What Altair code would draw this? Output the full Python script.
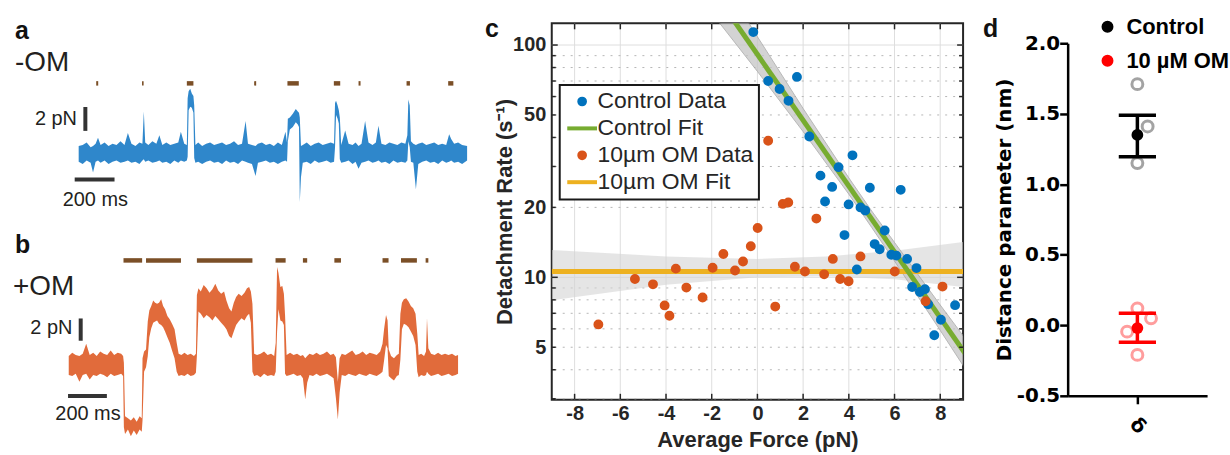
import altair as alt
import pandas as pd

# ======================= DATA =======================
# ---- panel a (-OM): force-trace envelope (time in ms, force in pN) ----
a_t = [0, 20, 40, 60, 72, 85, 97, 110, 130, 150,
       170, 190, 210, 230, 247, 265, 285, 305, 320, 327,
       334, 350, 370, 390, 405, 420, 440, 460, 480, 500,
       513, 530, 543, 547, 552, 560, 568, 576, 580, 586,
       600, 620, 640, 660, 680, 700, 720, 740, 760, 780,
       800, 820, 838, 850, 870, 888, 900, 920, 940, 960,
       980, 1000, 1020, 1038, 1046, 1050, 1060, 1075, 1090, 1100,
       1106, 1110, 1116, 1125, 1145, 1165, 1185, 1205, 1225, 1245,
       1265, 1282, 1287, 1292, 1300, 1306, 1311, 1318, 1338, 1355,
       1375, 1390, 1405, 1420, 1438, 1455, 1475, 1492, 1505, 1520,
       1540, 1560, 1580, 1600, 1620, 1640, 1650, 1655, 1662, 1668,
       1680, 1693, 1705, 1725, 1745, 1765, 1785, 1805, 1825, 1845,
       1860, 1870, 1885, 1905, 1925, 1950]
a_lo = [-0.7, -0.9, -0.6, -0.8, -1.6, -0.7, -0.6, -0.8, -0.6, -0.9,
        -0.7, -0.6, -0.8, -0.7, -0.6, -0.8, -0.7, -0.9, -0.6, -0.5,
        -0.7, -0.6, -0.8, -0.7, -0.6, -0.8, -0.7, -0.9, -0.6, -0.8,
        -0.6, -0.7, -0.6, -0.3, 3.6, 3.9, 3.8, 3.4, -0.4, -0.8,
        -0.7, -0.9, -0.7, -0.6, -0.8, -0.7, -0.9, -0.6, -0.8, -0.7,
        -0.9, -0.6, -0.7, -0.8, -0.9, -1.9, -0.8, -0.7, -0.6, -0.8,
        -0.7, -0.9, -0.7, -0.6, -0.7, 1.0, 2.0, 2.2, 2.6, 2.4,
        2.2, -4.1, -2.0, -0.8, -0.7, -0.9, -0.6, -0.8, -0.7, -0.6,
        -0.8, -0.7, 0.5, 3.2, 2.9, 2.5, -0.5, -0.8, -0.7, -0.6,
        -0.9, -0.7, -1.3, -0.8, -0.7, -0.6, -0.8, -0.7, -0.6, -0.8,
        -0.7, -0.9, -0.6, -0.8, -0.7, -0.8, -0.6, 1.0, 0.5, -0.7,
        -0.8, -3.0, -0.9, -0.7, -0.6, -0.8, -0.7, -0.9, -0.6, -0.8,
        -0.7, -0.6, -0.8, -0.7, -0.9, -0.6]
a_hi = [0.6, 0.7, 0.9, 0.5, 0.6, 0.8, 1.3, 0.7, 0.9, 0.6,
        0.8, 0.7, 1.0, 0.7, 1.7, 0.8, 0.6, 0.9, 0.8, 3.5,
        0.9, 0.7, 1.0, 0.8, 1.5, 0.7, 0.9, 0.7, 0.8, 0.9,
        1.8, 0.8, 0.7, 4.6, 5.2, 5.4, 5.0, 4.8, 4.0, 0.7,
        0.9, 0.6, 0.8, 0.9, 0.7, 0.8, 0.9, 0.7, 0.8, 1.0,
        0.7, 0.8, 2.7, 0.8, 0.7, 0.6, 0.8, 0.9, 0.7, 0.8,
        0.6, 0.9, 0.7, 1.8, 0.9, 2.9, 3.0, 3.3, 3.7, 3.5,
        3.4, 3.0, 0.6, 0.7, 0.9, 0.6, 0.8, 0.9, 0.7, 0.8,
        0.9, 0.8, 4.2, 4.4, 4.0, 3.6, 3.0, 0.7, 1.9, 0.8,
        0.7, 0.9, 0.6, 0.8, 2.7, 0.9, 0.7, 0.9, 2.3, 0.8,
        0.7, 0.9, 0.8, 0.7, 0.9, 0.8, 1.5, 4.5, 4.0, 1.0,
        0.8, 0.7, 0.8, 0.9, 0.7, 0.8, 0.9, 0.7, 0.8, 0.7,
        1.6, 1.2, 0.8, 0.9, 0.7, 0.6]
a_evt_start = [88, 318, 543, 881, 1048, 1281, 1405, 1646, 1855]
a_evt_end = [98, 326, 576, 891, 1105, 1313, 1415, 1663, 1881]
a_evt_level = 5.85

# ---- panel b (+OM) ----
b_t = [0, 18, 36, 55, 72, 90, 108, 126, 144, 162,
       180, 198, 216, 234, 252, 270, 280, 284, 290, 305,
       320, 335, 350, 365, 376, 380, 388, 398, 407, 415,
       425, 435, 445, 455, 465, 476, 486, 496, 508, 520,
       532, 545, 556, 566, 580, 596, 612, 628, 645, 655,
       660, 668, 680, 695, 710, 725, 740, 755, 770, 785,
       800, 812, 826, 838, 850, 862, 875, 890, 905, 918,
       929, 938, 946, 955, 970, 988, 1006, 1024, 1042, 1058,
       1066, 1073, 1080, 1090, 1100, 1108, 1114, 1122, 1140, 1158,
       1176, 1194, 1206, 1218, 1228, 1240, 1258, 1276, 1294, 1312,
       1330, 1348, 1364, 1376, 1386, 1395, 1406, 1424, 1442, 1460,
       1478, 1496, 1514, 1532, 1550, 1568, 1586, 1604, 1616, 1624,
       1634, 1642, 1648, 1660, 1675, 1690, 1700, 1708, 1716, 1726,
       1738, 1750, 1762, 1774, 1786, 1795, 1802, 1815, 1830, 1840,
       1845, 1852, 1866, 1884, 1902, 1920, 1938, 1956, 1974, 1992,
       2005]
b_lo = [-0.9, -1.0, -0.8, -1.5, -0.9, -0.8, -1.3, -0.9, -1.0, -0.8,
        -0.9, -1.1, -0.8, -1.0, -0.9, -0.8, -1.0, -5.6, -6.2, -5.8,
        -6.4, -5.9, -6.3, -5.8, -6.0, -5.0, -0.6, -0.2, 0.8, 2.5,
        3.3, 3.8, 3.9, 4.0, 3.7, 3.6, 3.4, 3.0, 2.5, 2.0,
        1.3, 0.6, -0.6, -1.0, -0.9, -1.0, -0.8, -1.0, -0.9, -0.7,
        0.8, 4.8, 4.6, 4.2, 4.5, 4.3, 4.0, 4.4, 4.1, 3.8,
        3.5, 3.2, 2.6, 2.4, 3.0, 3.6, 3.9, 4.2, 4.0, 4.4,
        4.6, 3.8, -0.6, -1.0, -0.9, -1.1, -0.8, -1.0, -0.9, -1.0,
        -0.6, 3.0, 5.0, 4.0, 3.9, 3.6, -0.8, -1.0, -0.9, -0.8,
        -1.0, -0.9, -1.2, -3.1, -1.6, -0.9, -1.0, -0.8, -1.0, -0.9,
        -0.8, -1.0, -1.2, -3.0, -4.9, -2.5, -0.9, -1.0, -0.8, -0.9,
        -1.0, -0.8, -0.9, -1.0, -0.8, -0.9, -1.0, -0.8, -0.6, 0.4,
        1.8, 1.5, -1.0, -1.2, -1.4, -1.0, -0.9, 0.5, 3.2, 3.7,
        3.6, 3.4, 3.0, 2.6, 1.8, -0.6, -1.1, -0.9, -1.0, -0.9,
        -0.6, -0.8, -1.0, -0.9, -0.8, -1.0, -0.9, -0.8, -1.0, -0.9,
        -0.8]
b_hi = [0.8, 1.1, 0.9, 0.8, 1.0, 1.9, 0.9, 1.1, 0.8, 1.2,
        1.0, 0.9, 1.3, 0.9, 1.1, 1.0, 0.8, 0.2, -4.6, -4.8,
        -5.0, -4.7, -5.1, -4.6, -4.8, 0.6, 1.2, 1.4, 3.9, 4.9,
        5.3, 5.8, 5.6, 5.5, 5.6, 5.9, 5.3, 5.0, 4.4, 4.1,
        3.7, 3.2, 2.0, 1.0, 0.9, 1.1, 0.9, 1.0, 0.8, 1.0,
        6.3, 6.9, 6.6, 7.2, 6.9, 6.5, 6.8, 7.3, 6.7, 6.4,
        6.6, 5.8, 5.1, 4.8, 5.6, 6.1, 6.4, 6.2, 6.5, 6.9,
        7.0, 6.6, 5.5, 1.0, 0.9, 1.0, 1.2, 0.9, 1.0, 0.8,
        2.0, 8.8, 8.3, 7.0, 7.1, 6.4, 4.5, 0.9, 1.1, 0.9,
        1.0, 0.8, 0.9, 0.6, 0.8, 1.0, 0.9, 1.1, 0.9, 1.0,
        1.2, 0.9, 1.0, 0.7, -1.5, 0.6, 1.0, 0.9, 1.1, 1.3,
        0.9, 1.0, 1.2, 0.9, 1.1, 1.0, 0.9, 1.2, 1.9, 3.2,
        4.5, 4.0, 1.4, 0.8, 0.6, 0.9, 1.0, 4.6, 5.6, 5.9,
        6.0, 5.7, 5.3, 5.1, 4.6, 2.8, 0.9, 1.0, 0.8, 1.2,
        4.2, 1.5, 1.0, 0.9, 1.1, 0.9, 1.0, 0.9, 1.0, 0.8,
        0.9]
b_evt_start = [282, 398, 660, 1065, 1206, 1368, 1616, 1711, 1838]
b_evt_end = [378, 578, 946, 1117, 1228, 1402, 1647, 1793, 1852]
b_evt_level = 9.4

# scale bars (2 pN, 200 ms) and text labels, in data units (ms, pN)
a_sb_v = {"t": [33.5], "f0": [1.875], "f1": [3.875]}
a_sb_h = {"t0": [-20], "t1": [180], "f": [-2.2]}
a_lab = {"letter": ("a", -320, 9.6), "cond": ("-OM", -320, 6.9),
         "pn": ("2 pN", -8.5, 2.875), "ms": ("200 ms", 83.5, -3.875)}
b_sb_v = {"t": [61.6], "f0": [2.18], "f1": [4.18]}
b_sb_h = {"t0": [-3.6], "t1": [196.4], "f": [-2.78]}
b_lab = {"letter": ("b", -277, 10.05), "cond": ("+OM", -287, 6.27),
         "pn": ("2 pN", 19, 3.28), "ms": ("200 ms", 99, -4.42)}

# ---- panel c: detachment rate vs average force ----
ctrl_F = [-0.18, 0.47, 0.97, 1.73, 1.36, 2.27, 4.16, 3.55, 2.76, 3.27,
          4.92, 6.27, 2.96, 3.99, 4.51, 4.72, 5.57, 3.81, 5.13, 5.35,
          5.86, 6.08, 6.55, 4.35, 6.96, 6.77, 7.11, 7.33, 7.47, 8.03,
          7.74, 8.65]
ctrl_R = [113.7, 70.0, 64.7, 72.9, 57.5, 40.4, 33.5, 29.8, 27.4, 24.5,
          24.3, 23.8, 21.2, 20.6, 20.0, 19.4, 15.9, 15.2, 13.9, 13.2,
          12.5, 12.4, 12.0, 10.8, 10.96, 9.08, 8.65, 8.88, 7.66, 6.57,
          5.63, 7.59]
om_F = [-6.96, -5.36, -4.57, -4.06, -3.85, -3.57, -3.11, -2.40, -1.96, -1.49,
        -0.98, -0.63, -0.29, 0.01, 0.78, 1.64, 2.08, 2.92, 3.30, 3.62,
        3.99, 4.51, 6.01, 7.36, 8.10, 0.47, 1.11, 1.35, 2.58]
om_R = [6.27, 9.84, 9.33, 7.57, 6.83, 10.9, 9.03, 8.19, 11.0, 12.6,
        10.7, 11.7, 13.6, 16.3, 7.48, 11.1, 10.6, 10.3, 12.0, 9.84,
        9.62, 12.3, 10.6, 7.89, 9.12, 38.7, 20.7, 21.0, 17.9]
ctrl_fit_F = [-1.7, 9.1]
ctrl_fit_R = [158.5, 4.68]
ctrl_band_F = [-1.7, 0, 2, 4, 5, 6, 8, 9.1]
ctrl_band_lo = [126.0, 77.0, 42.4, 22.8, 16.4, 11.75, 5.91, 4.03]
ctrl_band_hi = [200.0, 108.6, 53.3, 26.8, 19.3, 14.13, 7.60, 5.44]
om_fit_F = [-9, 9]
om_fit_R = [10.6, 10.6]
om_band_F = [-9, -4, 0, 3, 6, 9]
om_band_lo = [7.96, 9.3, 10.0, 10.1, 9.8, 9.08]
om_band_hi = [13.1, 12.3, 12.0, 12.3, 13.0, 14.2]
c_xticks = [-8, -6, -4, -2, 0, 2, 4, 6, 8]
c_yticks = [5, 10, 20, 50, 100]
c_grid_major = [10, 100]
c_grid_minor = [3, 4, 5, 6, 7, 8, 9, 20, 30, 40, 50, 60, 70, 80, 90]
series_names = ["Control Data", "Control Fit", "10µm OM Data", "10µm OM Fit"]
series_colors = ["#0072BD", "#77AC30", "#D95319", "#EDB120"]

# ---- panel d: distance parameter ----
d_ctrl_vals = [1.71, 1.41, 1.15]
d_ctrl_jit = [0.0, 0.147, 0.0]
d_om_vals = [0.12, 0.05, -0.045, -0.21]
d_om_jit = [0.0, 0.196, -0.147, 0.0]
d_groups = ["Control", "10 µM OM"]
d_mean = [1.35, -0.02]
d_err_lo = [1.195, -0.12]
d_err_hi = [1.49, 0.085]
d_cap_half = 0.267
d_colors = ["#000000", "#ff0000"]
d_open_colors = ["#a3a3a3", "#ff9d9d"]

# ======================= STYLE =======================
LS = "Liberation Sans"
DV = "DejaVu Sans"
INK = "#231f20"
BROWN = "#7b4f27"
FRAME = "#262626"
AB_W, AB_H = 449, 423


def letter_title(txt, dx, dy):
    return alt.TitleParams(txt, anchor="start", frame="group", dx=dx, dy=dy, offset=0,
                           font=LS, fontSize=25, fontWeight="bold", color="#111111")


def trace_panel(t, lo, hi, color, ev_s, ev_e, ev_lvl, xdom, ydom, yrange, sbv, sbh, lab):
    xs = alt.Scale(domain=xdom, range=[0, AB_W], nice=False, zero=False)
    ys = alt.Scale(domain=ydom, range=yrange, nice=False, zero=False)

    def X(f):
        return alt.X(f, type="quantitative", scale=xs, axis=None)

    def Y(f):
        return alt.Y(f, type="quantitative", scale=ys, axis=None)

    trace = alt.Chart(pd.DataFrame({"t": t, "lo": lo, "hi": hi})).mark_area(
        color=color, opacity=0.85, interpolate="linear"
    ).encode(x=X("t"), y=Y("lo"), y2=alt.Y2("hi"))
    ev_df = pd.DataFrame({"s": ev_s, "e": ev_e})
    ev_df["lvl"] = ev_lvl
    events = alt.Chart(ev_df).mark_rule(color=BROWN, strokeWidth=4.5, strokeCap="butt").encode(
        x=X("s"), x2=alt.X2("e"), y=Y("lvl"))
    bar_v = alt.Chart(pd.DataFrame(sbv)).mark_rule(color="#333333", strokeWidth=4, strokeCap="butt").encode(
        x=X("t"), y=Y("f0"), y2=alt.Y2("f1"))
    bar_h = alt.Chart(pd.DataFrame(sbh)).mark_rule(color="#333333", strokeWidth=4, strokeCap="butt").encode(
        x=X("t0"), x2=alt.X2("t1"), y=Y("f"))
    layers = [trace, events, bar_v, bar_h]
    specs = {"letter": ("left", "alphabetic", 25, "bold"),
             "cond": ("left", "alphabetic", 28, "normal"),
             "pn": ("right", "middle", 20, "normal"),
             "ms": ("center", "middle", 20, "normal")}
    for key, (align, base, size, weight) in specs.items():
        txt, tt, ff = lab[key]
        layers.append(
            alt.Chart(pd.DataFrame({"t": [tt], "f": [ff], "s": [txt]})).mark_text(
                align=align, baseline=base, font=LS, fontSize=size, fontWeight=weight,
                color="#111111" if key == "letter" else INK
            ).encode(x=X("t"), y=Y("f"), text="s:N")
        )
    return alt.layer(*layers)


layer_a = trace_panel(a_t, a_lo, a_hi, "#0a72c2", a_evt_start, a_evt_end, a_evt_level,
                      [-395, 1850], [-5.21, 10.875], [193, 0], a_sb_v, a_sb_h, a_lab)
layer_b = trace_panel(b_t, b_lo, b_hi, "#dc5119", b_evt_start, b_evt_end, b_evt_level,
                      [-354, 1949], [-7.16, 12.09], [423, 208], b_sb_v, b_sb_h, b_lab)
chart_ab = alt.layer(layer_a, layer_b).resolve_scale(x="independent", y="independent").properties(
    width=AB_W, height=AB_H)

# ---------------- panel c ----------------
CW, CH = 413, 378
CX = alt.Scale(domain=[-9, 9], nice=False, zero=False)
CY = alt.Scale(type="log", domain=[2.97, 124], nice=False)
x_axis_c = alt.Axis(values=c_xticks, labelExpr="'' + datum.value", title="Average Force (pN)",
                    labelFont=LS, labelFontSize=20, labelFontWeight="bold", labelColor=FRAME,
                    titleFont=LS, titleFontSize=22, titleFontWeight="bold", titleColor=FRAME,
                    ticks=False, domain=False, grid=False, labelPadding=4, titlePadding=6)
y_axis_c = alt.Axis(values=c_yticks, labelExpr="'' + datum.value", title="Detachment Rate (s⁻¹)",
                    labelFont=LS, labelFontSize=20, labelFontWeight="bold", labelColor=FRAME,
                    titleFont=LS, titleFontSize=22, titleFontWeight="bold", titleColor=FRAME,
                    ticks=False, domain=False, grid=False, labelPadding=6, titlePadding=-4)


def cX(f):
    return alt.X(f, type="quantitative", scale=CX, axis=x_axis_c)


def cY(f):
    return alt.Y(f, type="quantitative", scale=CY, axis=y_axis_c)


gx = alt.Chart(pd.DataFrame({"v": c_xticks})).mark_rule(color="#dedede", strokeWidth=1).encode(x=cX("v"))
gmaj = alt.Chart(pd.DataFrame({"v": c_grid_major})).mark_rule(color="#dedede", strokeWidth=1).encode(y=cY("v"))
gmin = alt.Chart(pd.DataFrame({"v": c_grid_minor})).mark_rule(
    color="#b5b5b5", strokeWidth=1, strokeDash=[2, 6]).encode(y=cY("v"))

om_band = alt.Chart(pd.DataFrame({"F": om_band_F, "lo": om_band_lo, "hi": om_band_hi})).mark_area(
    color="#d4d4d4", opacity=0.6, clip=True).encode(x=cX("F"), y=cY("lo"), y2=alt.Y2("hi"))
ctrl_band = alt.Chart(pd.DataFrame({"F": ctrl_band_F, "lo": ctrl_band_lo, "hi": ctrl_band_hi})).mark_area(
    color="#c4c4c4", opacity=0.75, stroke="#a0a0a0", strokeWidth=1, clip=True).encode(
    x=cX("F"), y=cY("lo"), y2=alt.Y2("hi"))
om_fit = alt.Chart(pd.DataFrame({"F": om_fit_F, "R": om_fit_R})).mark_line(
    color=series_colors[3], strokeWidth=5, clip=True).encode(x=cX("F"), y=cY("R"))
ctrl_fit = alt.Chart(pd.DataFrame({"F": ctrl_fit_F, "R": ctrl_fit_R})).mark_line(
    color=series_colors[1], strokeWidth=5, clip=True).encode(x=cX("F"), y=cY("R"))

pts_df = pd.concat([
    pd.DataFrame({"F": ctrl_F, "R": ctrl_R, "series": series_names[0]}),
    pd.DataFrame({"F": om_F, "R": om_R, "series": series_names[2]}),
])
leg_c = alt.Legend(title=None, orient="none", legendX=8, legendY=62, padding=5,
                   fillColor="white", strokeColor="#1a1a1a",
                   labelFont=LS, labelFontSize=23, labelColor="#262626", labelLimit=400,
                   symbolSize=33, symbolStrokeWidth=4, symbolOffset=6, labelOffset=4,
                   rowPadding=3, symbolOpacity=1)
line_sym = "M-5.2,0H5.2"
pts = alt.Chart(pts_df).mark_point(filled=True, size=35, strokeWidth=4, opacity=1).encode(
    x=cX("F"),
    y=cY("R"),
    fill=alt.Fill("series:N", scale=alt.Scale(domain=series_names, range=series_colors), legend=leg_c),
    stroke=alt.Stroke("series:N", scale=alt.Scale(domain=series_names, range=series_colors), legend=leg_c),
    shape=alt.Shape("series:N", scale=alt.Scale(domain=series_names,
                                                range=["circle", line_sym, "circle", line_sym]), legend=leg_c),
)

tick_top = alt.Chart(pd.DataFrame({"v": c_xticks})).mark_rule(color=FRAME, strokeWidth=1.5).encode(
    x=cX("v"), y=alt.value(0), y2=alt.value(6))
tick_bot = alt.Chart(pd.DataFrame({"v": c_xticks})).mark_rule(color=FRAME, strokeWidth=1.5).encode(
    x=cX("v"), y=alt.value(CH), y2=alt.value(CH - 6))
tick_l_maj = alt.Chart(pd.DataFrame({"v": c_grid_major})).mark_rule(color=FRAME, strokeWidth=1.5).encode(
    y=cY("v"), x=alt.value(0), x2=alt.value(6))
tick_l_min = alt.Chart(pd.DataFrame({"v": c_grid_minor})).mark_rule(color=FRAME, strokeWidth=1.5).encode(
    y=cY("v"), x=alt.value(0), x2=alt.value(4))
tick_r_maj = alt.Chart(pd.DataFrame({"v": c_grid_major})).mark_rule(color=FRAME, strokeWidth=1.5).encode(
    y=cY("v"), x=alt.value(CW), x2=alt.value(CW - 6))
tick_r_min = alt.Chart(pd.DataFrame({"v": c_grid_minor})).mark_rule(color=FRAME, strokeWidth=1.5).encode(
    y=cY("v"), x=alt.value(CW), x2=alt.value(CW - 4))

chart_c = alt.layer(gx, gmaj, gmin, om_band, ctrl_band, om_fit, ctrl_fit, pts,
                    tick_top, tick_bot, tick_l_maj, tick_l_min, tick_r_maj, tick_r_min).properties(
    width=CW, height=CH,
    view=alt.ViewBackground(stroke=FRAME, strokeWidth=2),
    title=letter_title("c", -67, 21))

# ---------------- panel d ----------------
DW, DH = 140, 374
DXs = alt.Scale(domain=[-1, 1], nice=False, zero=False)
DYs = alt.Scale(domain=[-0.5, 2.0], range=[374, 20], nice=False, zero=False)
neg_fmt = "datum.value < 0 ? '-' + format(-datum.value, '.1f') : format(datum.value, '.1f')"
y_axis_d = alt.Axis(values=[-0.5, 0, 0.5, 1.0, 1.5, 2.0], labelExpr=neg_fmt,
                    title="Distance parameter (nm)",
                    labelFont=DV, labelFontSize=20, labelFontWeight="bold", labelColor="#000000",
                    titleFont=DV, titleFontSize=20, titleFontWeight="bold", titleColor="#000000",
                    tickSize=8, tickWidth=2.5, tickColor="#000000", domainColor="#000000",
                    domainWidth=2.5, grid=False, labelPadding=0, titlePadding=2)
x_axis_d = alt.Axis(values=[0], labelExpr="'δ'", title=None,
                    labelFont=DV, labelFontSize=20, labelFontWeight="bold", labelColor="#000000",
                    labelAngle=45, labelAlign="center", labelBaseline="middle",
                    tickSize=8, tickWidth=2.5, tickColor="#000000", domainColor="#000000",
                    domainWidth=2.5, grid=False, labelPadding=22)


def dX(f):
    return alt.X(f, type="quantitative", scale=DXs, axis=x_axis_d)


def dY(f):
    return alt.Y(f, type="quantitative", scale=DYs, axis=y_axis_d)


leg_d = alt.Legend(title=None, orient="none", legendX=29, legendY=-7.5, padding=0,
                   labelFont=LS, labelFontSize=22, labelFontWeight="bold", labelColor="#000000",
                   symbolSize=110, symbolType="circle", labelOffset=8, rowPadding=12,
                   symbolOpacity=1, labelLimit=300)
gcol = alt.Scale(domain=d_groups, range=d_colors)

open_ctrl = alt.Chart(pd.DataFrame({"j": d_ctrl_jit, "v": d_ctrl_vals})).mark_point(
    filled=False, size=120, strokeWidth=3, color=d_open_colors[0], opacity=1).encode(x=dX("j"), y=dY("v"))
open_om = alt.Chart(pd.DataFrame({"j": d_om_jit, "v": d_om_vals})).mark_point(
    filled=False, size=120, strokeWidth=3, color=d_open_colors[1], opacity=1).encode(x=dX("j"), y=dY("v"))

err_df = pd.DataFrame({"g": d_groups, "m": d_mean, "lo": d_err_lo, "hi": d_err_hi})
err_df["x0"] = 0.0
err_df["c0"] = -d_cap_half
err_df["c1"] = d_cap_half
err_v = alt.Chart(err_df).mark_rule(strokeWidth=3.5).encode(
    x=dX("x0"), y=dY("lo"), y2=alt.Y2("hi"), color=alt.Color("g:N", scale=gcol, legend=leg_d))
cap_hi = alt.Chart(err_df).mark_rule(strokeWidth=3.5).encode(
    x=dX("c0"), x2=alt.X2("c1"), y=dY("hi"), color=alt.Color("g:N", scale=gcol, legend=leg_d))
cap_lo = alt.Chart(err_df).mark_rule(strokeWidth=3.5).encode(
    x=dX("c0"), x2=alt.X2("c1"), y=dY("lo"), color=alt.Color("g:N", scale=gcol, legend=leg_d))
means = alt.Chart(err_df).mark_point(filled=True, size=140, opacity=1).encode(
    x=dX("x0"), y=dY("m"), color=alt.Color("g:N", scale=gcol, legend=leg_d))

chart_d = alt.layer(open_ctrl, open_om, err_v, cap_hi, cap_lo, means).properties(
    width=DW, height=DH, title=letter_title("d", -85, 26))

# ---------------- assemble ----------------
chart = alt.hconcat(chart_ab, chart_c, chart_d, spacing=105, bounds="flush").resolve_scale(
    color="independent", fill="independent", stroke="independent", shape="independent"
).resolve_legend(
    color="independent", fill="independent", stroke="independent", shape="independent"
).properties(
    padding={"left": 0, "top": 14.5, "right": 0, "bottom": 0}
).configure_view(stroke=None).configure_legend(strokeWidth=2)

chart.save("out.html", embed_options={"renderer": "svg", "actions": False})
